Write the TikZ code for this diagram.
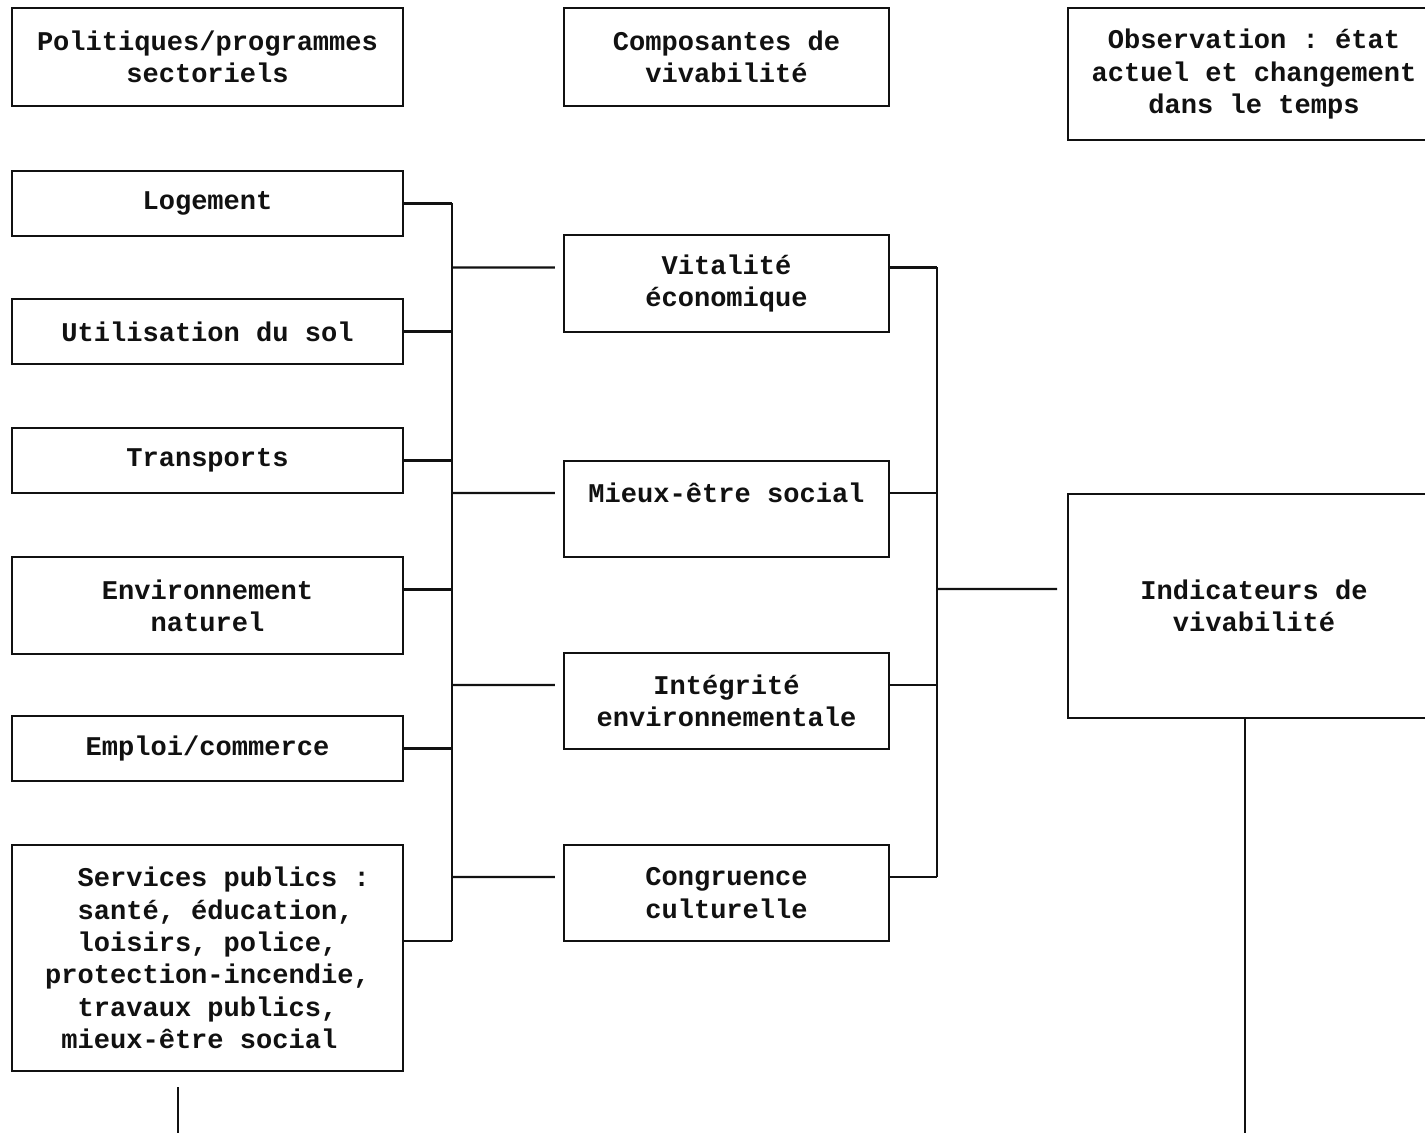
\documentclass[tikz,border=0pt]{standalone}
\usepackage{fontspec}
\setmonofont{Liberation Mono}
\usetikzlibrary{positioning}
\definecolor{vivInk}{HTML}{111111}
\tikzset{
  every picture/.style={font=\ttfamily\bfseries\fontsize{15.4}{18.4}\selectfont, text=vivInk},
  viv box/.style={draw=vivInk, line width=1.2pt, align=center, inner sep=0pt},
  viv left/.style={viv box, minimum width=7.82cm},
  viv mid/.style={viv box, minimum width=6.5cm},
  viv right/.style={viv box, minimum width=7.44cm},
  viv line/.style={draw=vivInk, line width=1.2pt}
}

\begin{document}
\begin{tikzpicture}[x=0.02cm,y=-0.02cm]
  \useasboundingbox (0,0) rectangle (1425,1133);
  % column heads
  \node[viv left, minimum height=1.96cm] (headPol) at (207.5,57) {Politiques/programmes\\sectoriels};
  \node[viv mid, minimum height=1.96cm] (headComp) at (726.5,57) {Composantes de\\vivabilité};
  \node[viv right, minimum height=2.64cm] (headObs) at (1254,74) {Observation : état\\actuel et changement\\dans le temps};
  % sector policies
  \node[viv left, minimum height=1.3cm] (logement) at (207.5,203.5) {Logement};
  \node[viv left, minimum height=1.3cm] (sol) at (207.5,331.5) {Utilisation du sol};
  \node[viv left, minimum height=1.3cm] (transports) at (207.5,460.5) {Transports};
  \node[viv left, minimum height=1.94cm] (environ) at (207.5,605.5) {Environnement\\naturel};
  \node[viv left, minimum height=1.3cm] (emploi) at (207.5,748.5) {Emploi/commerce};
  \node[viv left, minimum height=4.52cm, align=left] (services) at (207.5,958)
    {\phantom{xx}Services publics :\\\phantom{xx}santé, éducation,\\\phantom{xx}loisirs, police,\\protection-incendie,\\\phantom{xx}travaux publics,\\\phantom{x}mieux-être social};
  % components
  \node[viv mid, minimum height=1.94cm] (vitalite) at (726.5,283.5) {Vitalité\\économique};
  \node[viv mid, minimum height=1.92cm] (mieux) at (726.5,509) {Mieux-être social\\\mbox{}};
  \node[viv mid, minimum height=1.92cm] (integrite) at (726.5,701) {Intégrité\\environnementale};
  \node[viv mid, minimum height=1.92cm] (congruence) at (726.5,893) {Congruence\\culturelle};
  % indicators
  \node[viv right, minimum height=4.48cm] (indic) at (1254,606) {Indicateurs de\\vivabilité};

  % left bus
  \coordinate (lbusTop) at (452,203);
  \coordinate (lbusBot) at (452,941);
  \draw[viv line] (lbusTop) -- (lbusBot);
  \draw[viv line] (logement.east) -- (logement.east -| lbusTop);
  \draw[viv line] (sol.east) -- (sol.east -| lbusTop);
  \draw[viv line] (transports.east) -- (transports.east -| lbusTop);
  \draw[viv line] ([yshift=0.32cm]environ.east) -- ([yshift=0.32cm]environ.east -| lbusTop);
  \draw[viv line] (emploi.east) -- (emploi.east -| lbusTop);
  \draw[viv line] ([yshift=0.34cm]services.east) -- ([yshift=0.34cm]services.east -| lbusTop);
  \foreach \n in {vitalite,mieux,integrite,congruence}{
    \draw[viv line] ([yshift=0.32cm]\n.west -| lbusTop) -- ([shift={(-8,-16)}]\n.west);
  }

  % right bus
  \coordinate (rbusTop) at (937,267);
  \coordinate (rbusBot) at (937,877);
  \draw[viv line] (rbusTop) -- (rbusBot);
  \foreach \n in {vitalite,mieux,integrite,congruence}{
    \draw[viv line] ([yshift=0.32cm]\n.east) -- ([yshift=0.32cm]\n.east -| rbusTop);
  }
  \draw[viv line] ([yshift=0.34cm]indic.west -| rbusTop) -- ([shift={(-10,-17)}]indic.west);

  % lines running on to the next page
  \coordinate (indicEnd) at (1245,1133);
  \draw[viv line] (indic.south -| indicEnd) -- (indicEnd);
  \coordinate (servTop) at (178,1087);
  \coordinate (servEnd) at (178,1133);
  \draw[viv line] (servTop) -- (servEnd);
\end{tikzpicture}
\end{document}
